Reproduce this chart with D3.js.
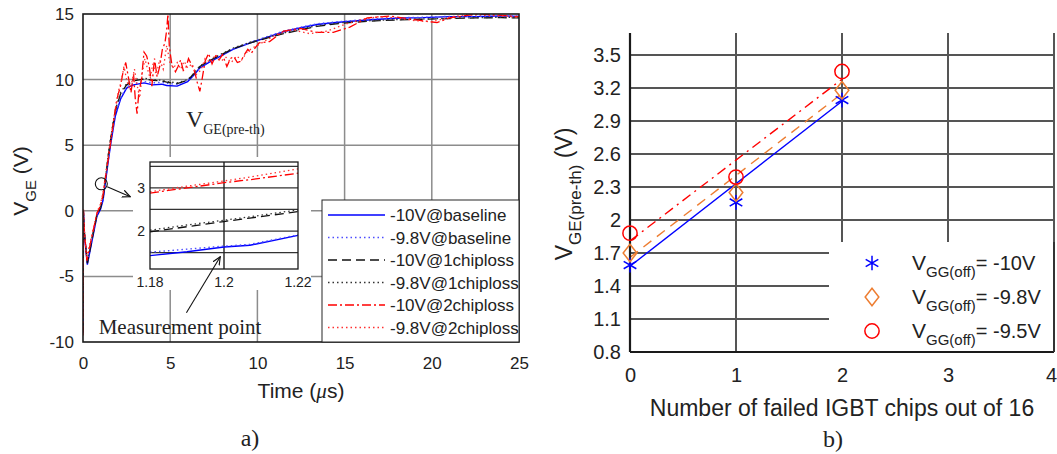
<!DOCTYPE html>
<html>
<head>
<meta charset="utf-8">
<script src="https://cdn.jsdelivr.net/npm/d3@7"></script>
<style>
  body { margin: 0; background: #fff; }
  svg { display: block; }
  text { font-family: "Liberation Sans", Arial, sans-serif; fill: #222; }
  .serif { font-family: "Liberation Serif", "Times New Roman", serif; }
</style>
</head>
<body>
<svg id="fig" width="1057" height="454"></svg>
<script>
// ---------- panel a) data: gate voltage waveforms ----------
const timeTicks = [0, 5, 10, 15, 20, 25];
const voltTicks = [-10, -5, 0, 5, 10, 15];

// shared time base for baseline and 1-chip-loss traces (us)
const tBase = [0, 0.03, 0.06, 0.25, 0.5, 0.8, 1.0, 1.15, 1.28, 1.45, 1.6, 1.85, 2.15, 2.5, 2.9, 3.5, 4.0, 4.5, 4.8, 5.4,
  6.0, 6.4, 6.7, 7.2, 7.7, 8.6, 9.6, 10.5, 11.5, 12.5, 13.4, 14.5, 15.9, 17, 18.2, 19.5, 21, 22.5, 24, 25];
const vBase10 = [-9.3, -0.2, -1.5, -4.1, -2.4, -0.4, 0.1, 0.8, 2.1, 3.8, 5.2, 7.2, 8.5, 9.35, 9.6, 9.75, 9.6, 9.65, 9.55, 9.5,
  9.85, 10.4, 10.9, 11.3, 11.65, 12.3, 12.8, 13.2, 13.65, 13.95, 14.2, 14.35, 14.5, 14.6, 14.7, 14.72, 14.8, 14.8, 14.85, 14.82];
const vBase98 = [-9.0, -0.1, -1.4, -4.0, -2.3, -0.3, 0.2, 0.9, 2.2, 3.9, 5.3, 7.3, 8.6, 9.45, 9.7, 9.85, 9.75, 9.8, 9.7, 9.65,
  9.95, 10.45, 10.95, 11.35, 11.7, 12.35, 12.85, 13.25, 13.7, 14.0, 14.25, 14.4, 14.55, 14.65, 14.72, 14.75, 14.82, 14.82, 14.86, 14.84];
const vOne10 = [-9.2, -0.1, -1.4, -4.0, -2.3, -0.3, 0.2, 1.0, 2.4, 4.2, 5.6, 7.6, 8.9, 9.6, 9.9, 10.05, 9.95, 9.9, 9.8, 9.7,
  9.95, 10.5, 11.0, 11.4, 11.75, 12.35, 12.8, 13.15, 13.5, 13.8, 14.05, 14.25, 14.4, 14.5, 14.55, 14.6, 14.65, 14.7, 14.72, 14.7];
const vOne98 = [-9.0, 0, -1.3, -3.9, -2.2, -0.2, 0.3, 1.1, 2.5, 4.3, 5.7, 7.7, 9.0, 9.7, 10.0, 10.1, 10.0, 9.95, 9.85, 9.75,
  10.0, 10.55, 11.05, 11.45, 11.8, 12.4, 12.85, 13.2, 13.55, 13.85, 14.1, 14.3, 14.45, 14.52, 14.58, 14.62, 14.68, 14.72, 14.75, 14.72];

// 2-chip-loss traces ring a lot, so they carry their own time base
const tTwo10 = [0, 0.03, 0.06, 0.22, 0.5, 0.8, 1.0, 1.15, 1.3, 1.5, 1.65, 1.85, 2.0, 2.15, 2.3, 2.45, 2.6, 2.75, 2.9, 3.0,
  3.1, 3.2, 3.35, 3.5, 3.65, 3.8, 3.95, 4.1, 4.25, 4.4, 4.55, 4.7, 4.8, 4.87, 4.95, 5.1, 5.3, 5.45, 5.6, 5.75,
  5.9, 6.05, 6.2, 6.4, 6.55, 6.7, 6.85, 7.0, 7.2, 7.4, 7.6, 7.8, 8.0, 8.25, 8.45, 8.65, 8.85, 9.05, 9.25, 9.45,
  9.65, 9.8, 10.1, 10.7, 11.5, 12.45, 13.4, 14.35, 15.3, 16.3, 17.6, 19.1, 20.3, 21.0, 22.6, 24.0, 25];
const vTwo10 = [-9.5, 0, -1.2, -3.8, -2.0, -0.2, 0.4, 1.2, 2.6, 4.4, 5.8, 7.7, 8.8, 9.5, 10.6, 11.3, 10.2, 9.0, 10.4, 8.5,
  7.4, 9.0, 10.0, 12.1, 11.8, 11.0, 9.5, 11.6, 10.2, 11.0, 12.3, 12.8, 13.8, 15.0, 12.5, 11.1, 10.6, 11.0, 11.5, 10.7,
  10.9, 11.6, 11.2, 10.6, 9.8, 9.1, 10.2, 11.4, 12.0, 11.2, 11.8, 11.5, 11.9, 11.0, 11.6, 11.75, 11.3, 11.4, 11.9, 12.3,
  12.0, 12.3, 12.8, 12.9, 13.7, 13.9, 13.6, 13.6, 14.0, 14.7, 14.85, 14.55, 14.35, 14.7, 15.0, 14.9, 14.8];
const tTwo98 = [0, 0.03, 0.06, 0.2, 0.5, 0.8, 1.0, 1.15, 1.3, 1.5, 1.7, 1.9, 2.05, 2.2, 2.35, 2.5, 2.65, 2.8, 2.95, 3.1,
  3.25, 3.4, 3.55, 3.7, 3.85, 4.0, 4.2, 4.4, 4.6, 4.8, 5.0, 5.2, 5.4, 5.6, 5.8, 6.0, 6.25, 6.5, 6.75, 7.0,
  7.3, 7.6, 7.9, 8.2, 8.5, 8.8, 9.1, 9.4, 9.7, 10.0, 10.5, 11.2, 12.0, 13.0, 14.0, 15.0, 16.0, 17.0, 18.0, 19.0,
  20.0, 21.0, 22.0, 23.0, 24.0, 25];
const vTwo98 = [-9.2, 0.1, -1.0, -3.6, -1.9, -0.1, 0.5, 1.4, 2.8, 4.7, 6.4, 8.2, 9.2, 9.9, 11.0, 10.0, 9.3, 9.8, 10.8, 9.6,
  8.6, 10.5, 11.6, 10.8, 10.1, 11.2, 10.4, 11.5, 10.8, 12.6, 11.2, 10.9, 11.3, 10.8, 11.4, 10.9, 11.2, 10.4, 10.7, 11.6,
  11.3, 11.9, 11.4, 11.7, 11.3, 11.8, 11.5, 12.1, 12.4, 12.6, 13.0, 13.5, 13.8, 13.5, 13.7, 14.2, 14.6, 14.8, 14.7, 14.5,
  14.4, 14.75, 14.95, 14.9, 14.85, 14.75];

// inset zoom around the measurement point
const insetTimeTicks = [1.18, 1.2, 1.22];
const insetVoltLabels = [2, 3];
const insetVoltGrid = [1.5, 2, 2.5, 3, 3.5];
const insetT = [1.18, 1.19, 1.2, 1.207, 1.22];
const insetBase10 = [1.43, 1.52, 1.63, 1.67, 1.9];
const insetBase98 = [1.51, 1.58, 1.65, 1.69, 1.91];
const insetOne10 = [1.98, 2.1, 2.22, 2.3, 2.45];
const insetOne98 = [2.02, 2.14, 2.25, 2.33, 2.49];
const insetTwo10 = [2.88, 3.0, 3.12, 3.19, 3.34];
const insetTwo98 = [2.91, 3.04, 3.16, 3.25, 3.44];

// ---------- panel b) data ----------
const chipTicks = [0, 1, 2, 3, 4];
const preThTicks = [0.8, 1.1, 1.4, 1.7, 2, 2.3, 2.6, 2.9, 3.2, 3.5];
const failedChips = [0, 1, 2];
const vgg10 = [1.59, 2.16, 3.09];
const vgg98 = [1.70, 2.25, 3.18];
const vgg95 = [1.88, 2.39, 3.35];
const fitChips = [0, 2];
const fit10 = [1.58, 3.08];
const fit98 = [1.66, 3.15];
const fit95 = [1.81, 3.28];

// ---------- styles ----------
const traceStyle = [
  { label: '-10V@baseline',   t: tBase,  v: vBase10, in: insetBase10, color: '#0000ff', dash: null,        w: 1.4 },
  { label: '-9.8V@baseline',  t: tBase,  v: vBase98, in: insetBase98, color: '#4d4dff', dash: '1.5,3',     w: 1.4 },
  { label: '-10V@1chiploss',  t: tBase,  v: vOne10,  in: insetOne10,  color: '#111',    dash: '9,5',       w: 1.3 },
  { label: '-9.8V@1chiploss', t: tBase,  v: vOne98,  in: insetOne98,  color: '#333',    dash: '1.5,3',     w: 1.3 },
  { label: '-10V@2chiploss',  t: tTwo10, v: vTwo10,  in: insetTwo10,  color: '#ff0000', dash: '9,3,2,3',   w: 1.3 },
  { label: '-9.8V@2chiploss', t: tTwo98, v: vTwo98,  in: insetTwo98,  color: '#ff3030', dash: '1.5,3',     w: 1.3 },
];

const svg = d3.select('#fig');
const defs = svg.append('defs');
defs.append('marker').attr('id', 'arrow')
  .attr('viewBox', '0 0 10 10').attr('refX', 9).attr('refY', 5)
  .attr('markerWidth', 9).attr('markerHeight', 9).attr('markerUnits', 'userSpaceOnUse')
  .attr('orient', 'auto')
  .append('path').attr('d', 'M0,1 L9,5 L0,9').attr('fill', 'none').attr('stroke', '#111').attr('stroke-width', 1.3);

// ================= panel a) =================
const xA = d3.scaleLinear().domain([0, 25]).range([83, 519]);
const yA = d3.scaleLinear().domain([-10, 15]).range([342, 14]);

defs.append('clipPath').attr('id', 'clipA').append('rect')
  .attr('x', 83).attr('y', 14).attr('width', 436).attr('height', 328);

const gA = svg.append('g');

// grid
gA.append('g').selectAll('line').data(timeTicks.slice(1, -1)).join('line')
  .attr('x1', d => xA(d)).attr('x2', d => xA(d)).attr('y1', yA(15)).attr('y2', yA(-10))
  .attr('stroke', '#8c8c8c').attr('stroke-width', 1.5);
gA.append('g').selectAll('line').data(voltTicks.slice(1, -1)).join('line')
  .attr('x1', xA(0)).attr('x2', xA(25)).attr('y1', d => yA(d)).attr('y2', d => yA(d))
  .attr('stroke', '#8c8c8c').attr('stroke-width', 1.5);

// traces
const lineA = (t) => d3.line().x((d, i) => xA(t[i])).y(d => yA(d));
gA.append('g').attr('clip-path', 'url(#clipA)')
  .selectAll('path').data(traceStyle).join('path')
  .attr('d', s => lineA(s.t)(s.v))
  .attr('fill', 'none')
  .attr('stroke', s => s.color)
  .attr('stroke-width', s => s.w)
  .attr('stroke-dasharray', s => s.dash);

// axes
gA.append('g').attr('transform', `translate(0,${yA(-10)})`)
  .call(d3.axisBottom(xA).tickValues(timeTicks).tickFormat(d3.format('d')).tickSize(0).tickPadding(15))
  .call(g => g.select('.domain').remove())
  .selectAll('text').attr('font-size', 17).attr('font-family', null).attr('fill', '#222');
gA.append('g').attr('transform', `translate(${xA(0)},0)`)
  .call(d3.axisLeft(yA).tickValues(voltTicks).tickFormat(d => String(d)).tickSize(0).tickPadding(9))
  .call(g => g.select('.domain').remove())
  .selectAll('text').attr('font-size', 17).attr('font-family', null).attr('fill', '#222');
gA.append('rect').attr('x', xA(0)).attr('y', yA(15))
  .attr('width', xA(25) - xA(0)).attr('height', yA(-10) - yA(15))
  .attr('fill', 'none').attr('stroke', '#1a1a1a').attr('stroke-width', 1.6);

// axis labels
gA.append('text').attr('x', (xA(0) + xA(25)) / 2).attr('y', 398)
  .attr('text-anchor', 'middle').attr('font-size', 21)
  .call(t => {
    t.append('tspan').text('Time (');
    t.append('tspan').attr('font-style', 'italic').attr('font-family', 'Liberation Serif, serif').text('\u03bc');
    t.append('tspan').text('s)');
  });
gA.append('text').attr('transform', 'translate(28,181) rotate(-90)')
  .attr('text-anchor', 'middle').attr('font-size', 21)
  .call(t => {
    t.append('tspan').text('V');
    t.append('tspan').attr('font-size', 15).attr('dy', 8).text('GE');
    t.append('tspan').attr('dy', -8).text(' (V)');
  });

// annotation: V_GE(pre-th)
gA.append('text').attr('class', 'serif').attr('x', xA(5.9)).attr('y', yA(6.4)).attr('font-size', 24)
  .call(t => {
    t.append('tspan').text('V');
    t.append('tspan').attr('font-size', 14).attr('dy', 7).text('GE(pre-th)');
  });

// circle + arrow at the measurement spot
gA.append('circle').attr('cx', xA(1.05)).attr('cy', yA(2.06)).attr('r', 6)
  .attr('fill', 'none').attr('stroke', '#111').attr('stroke-width', 1.1);
gA.append('line')
  .attr('x1', xA(1.39)).attr('y1', yA(1.83)).attr('x2', xA(2.71)).attr('y2', yA(1.07))
  .attr('stroke', '#111').attr('stroke-width', 1.1).attr('marker-end', 'url(#arrow)');

// ---- inset ----
const xI = d3.scaleLinear().domain([1.18, 1.22]).range([150, 298]);
const yI = d3.scaleLinear().domain([1.12, 3.6]).range([269, 162]);
const gI = svg.append('g');
gI.append('rect').attr('x', 133).attr('y', 157).attr('width', 178).attr('height', 133).attr('fill', '#fff');
gI.append('g').selectAll('line').data(insetVoltGrid).join('line')
  .attr('x1', xI(1.18)).attr('x2', xI(1.22)).attr('y1', d => yI(d)).attr('y2', d => yI(d))
  .attr('stroke', '#333').attr('stroke-width', 1.2);
gI.append('line').attr('x1', xI(1.2)).attr('x2', xI(1.2)).attr('y1', yI(3.6)).attr('y2', yI(1.12))
  .attr('stroke', '#222').attr('stroke-width', 1.4);
const lineI = d3.line().x((d, i) => xI(insetT[i])).y(d => yI(d));
gI.append('g').selectAll('path').data(traceStyle).join('path')
  .attr('d', s => lineI(s.in))
  .attr('fill', 'none')
  .attr('stroke', s => s.color)
  .attr('stroke-width', s => s.w)
  .attr('stroke-dasharray', s => s.dash);
gI.append('rect').attr('x', xI(1.18)).attr('y', yI(3.6))
  .attr('width', xI(1.22) - xI(1.18)).attr('height', yI(1.12) - yI(3.6))
  .attr('fill', 'none').attr('stroke', '#1a1a1a').attr('stroke-width', 1.3);
gI.append('g').selectAll('text').data(insetTimeTicks).join('text')
  .attr('x', d => xI(d)).attr('y', 287).attr('text-anchor', 'middle').attr('font-size', 14)
  .text(d => d);
gI.append('g').selectAll('text').data(insetVoltLabels).join('text')
  .attr('x', 145).attr('y', d => yI(d) + 5).attr('text-anchor', 'end').attr('font-size', 14)
  .text(d => d);

// measurement point label + arrow (on top of the inset)
gI.append('text').attr('class', 'serif').attr('x', xA(0.9)).attr('y', yA(-9.37)).attr('font-size', 21)
  .text('Measurement point');
gI.append('line')
  .attr('x1', xA(5.93)).attr('y1', yA(-7.77)).attr('x2', xA(7.87)).attr('y2', yA(-3.5))
  .attr('stroke', '#111').attr('stroke-width', 1.1).attr('marker-end', 'url(#arrow)');

// ---- legend a) ----
const legA = svg.append('g').attr('transform', 'translate(322,200)');
legA.append('rect').attr('width', 197).attr('height', 142)
  .attr('fill', '#fff').attr('stroke', '#262626').attr('stroke-width', 1);
const rowA = legA.selectAll('g.row').data(traceStyle).join('g')
  .attr('transform', (d, i) => `translate(0,${15 + i * 22.5})`);
rowA.append('line').attr('x1', 6).attr('x2', 63)
  .attr('stroke', s => s.color).attr('stroke-width', s => s.w).attr('stroke-dasharray', s => s.dash);
rowA.append('text').attr('x', 68).attr('y', 6).attr('font-size', 17).text(s => s.label);

svg.append('text').attr('class', 'serif').attr('x', 250).attr('y', 446)
  .attr('text-anchor', 'middle').attr('font-size', 24).text('a)');

// ================= panel b) =================
const xB = d3.scaleLinear().domain([0, 4]).range([630, 1054]);
const yB = d3.scaleLinear().domain([0.8, 3.7]).range([352, 33]);
const gB = svg.append('g');

gB.append('g').selectAll('line').data(chipTicks.slice(1)).join('line')
  .attr('x1', d => xB(d)).attr('x2', d => xB(d)).attr('y1', yB(3.7)).attr('y2', yB(0.8))
  .attr('stroke', '#555').attr('stroke-width', 2);
gB.append('g').selectAll('line').data(preThTicks.slice(1)).join('line')
  .attr('x1', xB(0)).attr('x2', xB(4)).attr('y1', d => yB(d)).attr('y2', d => yB(d))
  .attr('stroke', '#555').attr('stroke-width', 2);

// fitted lines
const fitStyle = [
  { v: fit10, color: '#0000ff', dash: null },
  { v: fit98, color: '#ed7d31', dash: '10,7' },
  { v: fit95, color: '#ff0000', dash: '10,5,2,5' },
];
const lineB = d3.line().x((d, i) => xB(fitChips[i])).y(d => yB(d));
gB.append('g').selectAll('path').data(fitStyle).join('path')
  .attr('d', s => lineB(s.v)).attr('fill', 'none')
  .attr('stroke', s => s.color).attr('stroke-width', 1.4).attr('stroke-dasharray', s => s.dash);

// axes
gB.append('g').attr('transform', `translate(0,${yB(0.8)})`)
  .call(d3.axisBottom(xB).tickValues(chipTicks).tickFormat(d3.format('d')).tickSize(0).tickPadding(16))
  .call(g => g.select('.domain').remove())
  .selectAll('text').attr('font-size', 20).attr('font-family', null).attr('fill', '#222')
  .attr('dx', d => d === 4 ? -3 : 0);
gB.append('g').attr('transform', `translate(${xB(0)},0)`)
  .call(d3.axisLeft(yB).tickValues(preThTicks).tickFormat(d => String(d)).tickSize(0).tickPadding(9))
  .call(g => g.select('.domain').remove())
  .selectAll('text').attr('font-size', 20).attr('font-family', null).attr('fill', '#222');
gB.append('line').attr('x1', xB(0)).attr('x2', xB(0)).attr('y1', yB(3.7)).attr('y2', yB(0.8))
  .attr('stroke', '#1a1a1a').attr('stroke-width', 2.2);
gB.append('line').attr('x1', xB(0)).attr('x2', xB(4)).attr('y1', yB(0.8)).attr('y2', yB(0.8))
  .attr('stroke', '#1a1a1a').attr('stroke-width', 2.2);

// markers
const diamondWide = {
  draw(ctx, size) {
    const h = Math.sqrt(size) * 0.62, w = h * 0.78;
    ctx.moveTo(0, -h); ctx.lineTo(w, 0); ctx.lineTo(0, h); ctx.lineTo(-w, 0); ctx.closePath();
  }
};
const markerStyle = [
  { v: vgg10, color: '#0000ff', type: d3.symbolAsterisk, size: 150, label: '= -10V' },
  { v: vgg98, color: '#ed7d31', type: diamondWide, size: 200, label: '= -9.8V' },
  { v: vgg95, color: '#ff0000', type: d3.symbolCircle, size: 160, label: '= -9.5V' },
];

// legend b) background (drawn under markers, above grid)
const legB = svg.append('g').attr('transform', 'translate(829,242)');
legB.append('rect').attr('width', 224).attr('height', 109).attr('fill', '#fff');
legB.append('line').attr('x1', xB(4) - 829).attr('x2', xB(4) - 829).attr('y1', 0).attr('y2', 110)
  .attr('stroke', '#333').attr('stroke-width', 2);

markerStyle.forEach(s => {
  gB.append('g').selectAll('path').data(s.v).join('path')
    .attr('transform', (d, i) => `translate(${xB(failedChips[i])},${yB(d)})`)
    .attr('d', d3.symbol(s.type, s.size)())
    .attr('fill', 'none').attr('stroke', s.color).attr('stroke-width', 1.5);
});

const rowB = legB.selectAll('g.row').data(markerStyle).join('g')
  .attr('transform', (d, i) => `translate(0,${21 + i * 34})`);
rowB.append('path').attr('transform', 'translate(43,0)')
  .attr('d', s => d3.symbol(s.type, s.size)())
  .attr('fill', 'none').attr('stroke', s => s.color).attr('stroke-width', 1.5);
rowB.append('text').attr('x', 83).attr('y', 7).attr('font-size', 21)
  .each(function (s) {
    const t = d3.select(this);
    t.append('tspan').text('V');
    t.append('tspan').attr('font-size', 15).attr('dy', 7).text('GG(off)');
    t.append('tspan').attr('dy', -7).attr('font-size', 20).text(s.label);
  });

// labels
svg.append('text').attr('x', (xB(0) + xB(4)) / 2).attr('y', 416)
  .attr('text-anchor', 'middle').attr('font-size', 23)
  .text('Number of failed IGBT chips out of 16');
svg.append('text').attr('transform', 'translate(572,194) rotate(-90)')
  .attr('text-anchor', 'middle').attr('font-size', 23)
  .call(t => {
    t.append('tspan').text('V');
    t.append('tspan').attr('font-size', 17).attr('dy', 9).text('GE(pre-th)');
    t.append('tspan').attr('dy', -9).text(' (V)');
  });
svg.append('text').attr('class', 'serif').attr('x', 833).attr('y', 447)
  .attr('text-anchor', 'middle').attr('font-size', 24).text('b)');
</script>
</body>
</html>
